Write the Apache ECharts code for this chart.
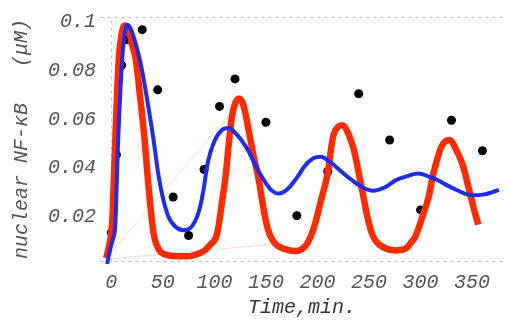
<!DOCTYPE html>
<html>
<head>
<meta charset="utf-8">
<script src="https://cdn.jsdelivr.net/npm/echarts@6/dist/echarts.min.js"></script>
<style>
  html, body { margin: 0; padding: 0; background: #fff; }
  #chart { width: 508px; height: 323px; }
</style>
</head>
<body>
<div id="chart"></div>
<script>
// measured nuclear NF-kB (dots)
const sampleTimes = [0, 5, 10, 15, 30, 45, 60, 75, 90, 105, 120, 150, 180, 210, 240, 270, 300, 330, 360];
const sampleValues = [0.0135, 0.0455, 0.0822, 0.0927, 0.0968, 0.0721, 0.0281, 0.0123, 0.0394, 0.0653,
  0.0766, 0.0588, 0.0204, 0.0386, 0.0705, 0.0515, 0.0228, 0.0596, 0.0471];

// red model curve
const redTimes = [-5, 0, 2, 4, 7.3, 10, 13, 17, 20, 23.7, 28, 32, 35.8, 40.7, 43.7, 48, 55, 65, 75, 82, 90, 96,
  101, 104, 107, 110.7, 115.5, 119, 123.6, 128, 133, 138, 142.7, 147, 152, 157, 162, 170, 178.6, 185,
  190, 196, 203, 209.7, 215.5, 220, 224, 229, 235, 240, 244.7, 249, 254, 260, 268, 276, 285, 291, 295,
  301, 307.8, 312, 317.5, 322, 328, 334, 340.8, 346, 350.5, 356];
const redValues = [0.003, 0.0135, 0.03, 0.053, 0.085, 0.095, 0.0985, 0.096, 0.091, 0.0846, 0.069, 0.053, 0.034,
  0.014, 0.0087, 0.0055, 0.0042, 0.0038, 0.0038, 0.0045, 0.006, 0.0085,
  0.011, 0.016, 0.025, 0.036, 0.056, 0.065, 0.0685, 0.066, 0.056, 0.045, 0.036, 0.025, 0.0147, 0.010,
  0.0079, 0.0065, 0.0059, 0.0068,
  0.009, 0.0147, 0.026, 0.0374, 0.0535, 0.057, 0.0576, 0.055, 0.048, 0.038, 0.028, 0.019, 0.0119, 0.0085,
  0.0067, 0.0062, 0.0068, 0.0095, 0.0119,
  0.019, 0.028, 0.037, 0.0455, 0.050, 0.0515, 0.048, 0.0414, 0.033, 0.0253, 0.0168];

// blue model curve
const blueTimes = [-4, -2, 1, 3.4, 5, 6.8, 10.6, 13, 15.5, 20, 27.6, 34, 40.5, 47, 54.7, 62, 70, 77, 84, 89, 94,
  100, 107, 113.6, 120, 127, 133, 140, 146.6, 154, 162, 170, 180, 188, 196, 203, 212, 222, 232, 242, 254,
  265, 276, 288, 298, 308, 317, 324, 335, 345, 352, 362, 369, 376];
const blueValues = [0.0006, 0.005, 0.01, 0.014, 0.03, 0.053, 0.085, 0.095, 0.0988, 0.096, 0.0846, 0.070, 0.053,
  0.034, 0.0208, 0.016, 0.0145, 0.0155, 0.021, 0.03, 0.043,
  0.051, 0.0555, 0.0564, 0.0545, 0.051, 0.047, 0.041, 0.036, 0.0315, 0.0295, 0.031, 0.036, 0.041, 0.044,
  0.0446, 0.0425, 0.039, 0.0355, 0.0325, 0.0307,
  0.032, 0.035, 0.0368, 0.0378, 0.0365, 0.035, 0.0333, 0.031, 0.0292, 0.0288, 0.0292, 0.030, 0.031];

// faint pink guide lines
const pinkTimesA = [-5, 113];
const pinkValuesA = [0.003, 0.061];
const pinkTimesB = [-5, 156];
const pinkValuesB = [0.0026, 0.0087];

const xTicks = [0, 50, 100, 150, 200, 250, 300, 350];
const yTicks = [0.02, 0.04, 0.06, 0.08, 0.1];

const zip = (xs, ys) => xs.map((x, i) => [x, ys[i]]);

const font = {
  fontFamily: "Liberation Mono",
  fontStyle: "italic",
  fontSize: 20,
  color: "#555",
};
const frameLine = { show: true, lineStyle: { color: "#bbb", type: [2, 5], width: 1 } };

const chart = echarts.init(document.getElementById("chart"));
chart.setOption({
  animation: false,
  grid: { left: 101, right: 5, top: 17, bottom: 58 },
  xAxis: [
    {
      type: "value",
      min: -10,
      max: 380,
      axisLine: frameLine,
      axisTick: { show: false },
      splitLine: { show: false },
      axisLabel: { ...font, margin: 12, customValues: xTicks },
      name: "Time,min.",
      nameLocation: "middle",
      nameGap: 36,
      nameTextStyle: { ...font, color: "#333" },
    },
    {
      type: "value",
      position: "top",
      min: -10,
      max: 380,
      axisLine: frameLine,
      axisTick: { show: false },
      axisLabel: { show: false },
      splitLine: { show: false },
    },
  ],
  yAxis: {
    type: "value",
    min: 0.0018,
    max: 0.102,
    axisLine: frameLine,
    axisTick: { show: false },
    splitLine: { show: false },
    axisLabel: {
      ...font,
      margin: 5,
      customValues: yTicks,
      formatter: (v) => (Math.abs(v - 0.1) < 1e-9 ? "0.1" : v.toFixed(2)),
    },
    name: "nuclear NF-\u03baB   (\u03bcM)",
    nameLocation: "middle",
    nameGap: 69,
    nameRotate: 90,
    nameTextStyle: { ...font, color: "#555" },
  },
  series: [
    {
      type: "line",
      data: zip(pinkTimesA, pinkValuesA),
      symbol: "none",
      lineStyle: { color: "rgba(250,140,140,0.45)", width: 0.8 },
      clip: false,
    },
    {
      type: "line",
      data: zip(pinkTimesB, pinkValuesB),
      symbol: "none",
      lineStyle: { color: "rgba(250,140,140,0.45)", width: 0.8 },
      clip: false,
    },
    {
      type: "line",
      data: zip(redTimes, redValues),
      symbol: "none",
      smooth: 0.4,
      lineStyle: { color: "#ff2a00", width: 6.5 },
      clip: false,
    },
    {
      type: "line",
      data: zip(blueTimes, blueValues),
      symbol: "none",
      smooth: 0.4,
      lineStyle: { color: "#1e2cf0", width: 4 },
      clip: false,
    },
    {
      type: "scatter",
      data: zip(sampleTimes, sampleValues),
      symbolSize: 9,
      itemStyle: { color: "#000", opacity: 1 },
    },
  ],
});
</script>
</body>
</html>
